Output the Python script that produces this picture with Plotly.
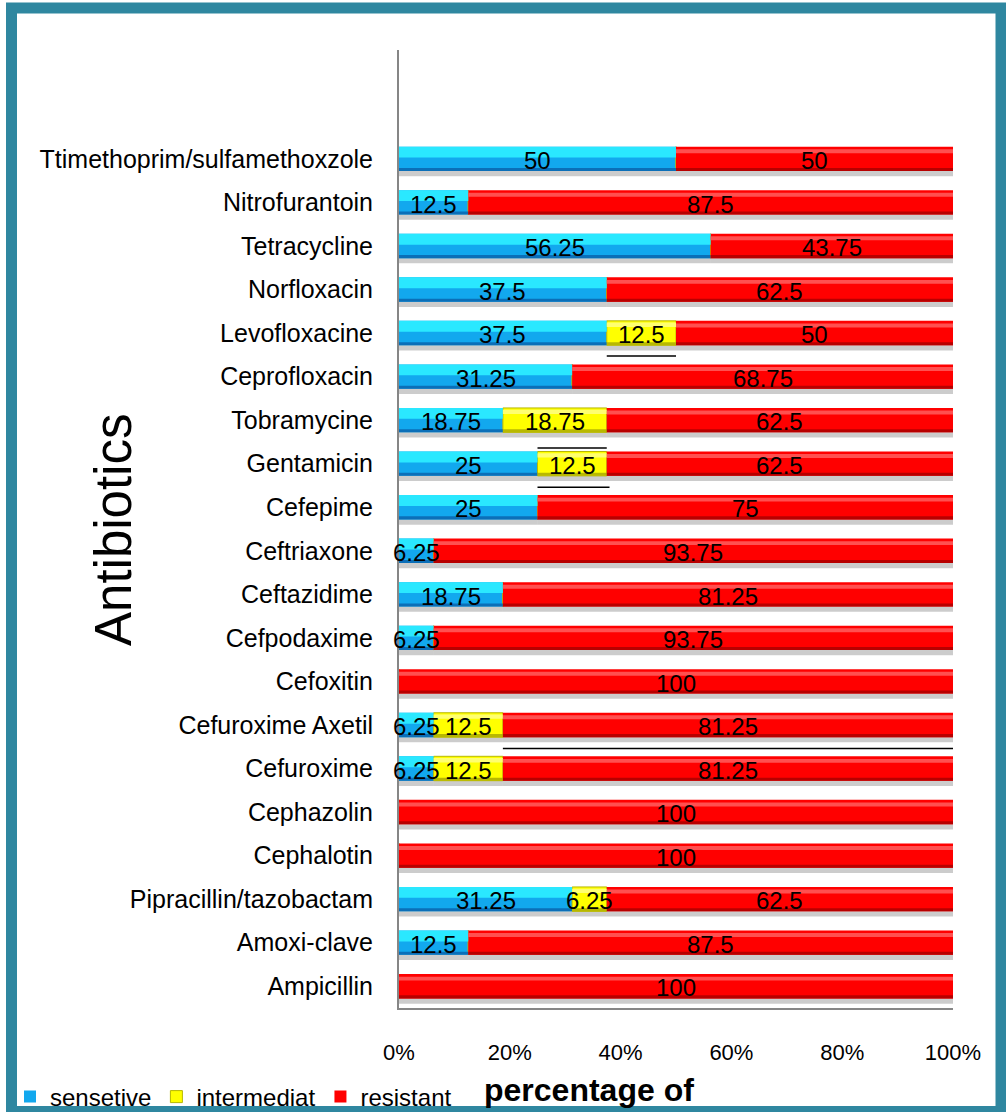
import numpy as np
import plotly.graph_objects as go

# Antibiotics, listed bottom to top
antibiotics = [
    "Ampicillin", "Amoxi-clave", "Pipracillin/tazobactam", "Cephalotin",
    "Cephazolin", "Cefuroxime", "Cefuroxime Axetil", "Cefoxitin",
    "Cefpodaxime", "Ceftazidime", "Ceftriaxone", "Cefepime", "Gentamicin",
    "Tobramycine", "Ceprofloxacin", "Levofloxacine", "Norfloxacin",
    "Tetracycline", "Nitrofurantoin", "Ttimethoprim/sulfamethoxzole",
]
sensetive = [0, 12.5, 31.25, 0, 0, 6.25, 6.25, 0, 6.25, 18.75, 6.25, 25, 25,
             18.75, 31.25, 37.5, 37.5, 56.25, 12.5, 50]
intermediat = [0, 0, 6.25, 0, 0, 12.5, 12.5, 0, 0, 0, 0, 0, 12.5, 18.75, 0,
               12.5, 0, 0, 0, 0]
resistant = [100, 87.5, 62.5, 100, 100, 81.25, 81.25, 100, 93.75, 81.25,
             93.75, 75, 62.5, 62.5, 68.75, 50, 62.5, 43.75, 87.5, 50]

series_names = ["sensetive", "intermediat", "resistant"]
tick_vals = [0, 20, 40, 60, 80, 100]

W, H = 1006, 1112
L, R, T, B = 399, 953, 50, 1008  # plot-area edges in pixels
FONT = "Liberation Sans"


def px_x(p):
    return (p - L) / (R - L)


def px_y(p):
    return (B - p) / (B - T)


styles = {
    "sensetive": dict(main="#12a8ee", hi="#2ae8ff", edge="#0b6fb8"),
    "intermediat": dict(main="#ffff00", hi="#ffff70", edge="#b8b800"),
    "resistant": dict(main="#ff0000", hi="#ff5050", edge="#b80000"),
}
band = {  # (offset, width) of the glossy band per series
    "sensetive": (0.03, 0.25),
    "intermediat": (0.14, 0.10),
    "resistant": (0.13, 0.09),
}

values = [np.array(sensetive), np.array(intermediat), np.array(resistant)]
bases = [np.zeros(len(antibiotics)), values[0], values[0] + values[1]]

fig = go.Figure()

BW = 0.56  # bar thickness in category units

# drop shadows first
for name, v, b in zip(series_names, values, bases):
    fig.add_trace(go.Bar(
        y=antibiotics, x=v, base=b, orientation="h",
        offset=-BW / 2 - 0.12, width=BW,
        marker=dict(color="rgba(0,0,0,0.2)", line=dict(width=0)),
        showlegend=False, hoverinfo="skip"))

# main bars
for name, v, b in zip(series_names, values, bases):
    st = styles[name]
    fig.add_trace(go.Bar(
        y=antibiotics, x=v, base=b, orientation="h", name=name,
        offset=-BW / 2, width=BW,
        marker=dict(color=st["main"],
                    line=dict(width=1 if name == "intermediat" else 0,
                              color=st["edge"])),
        showlegend=True))

# glossy top band and darker lower edge
for name, v, b in zip(series_names, values, bases):
    st = styles[name]
    off, wid = band[name]
    fig.add_trace(go.Bar(
        y=antibiotics, x=v, base=b, orientation="h",
        offset=off, width=wid,
        marker=dict(color=st["hi"], line=dict(width=0)),
        showlegend=False, hoverinfo="skip"))
    fig.add_trace(go.Bar(
        y=antibiotics, x=v, base=b, orientation="h",
        offset=-BW / 2, width=0.07,
        marker=dict(color=st["edge"], line=dict(width=0)),
        showlegend=False, hoverinfo="skip"))

annotations = []
# value labels centred in each segment
for v, b in zip(values, bases):
    for i, name in enumerate(antibiotics):
        if v[i] > 0:
            annotations.append(dict(
                x=b[i] + v[i] / 2, y=i - 0.04, xref="x", yref="y",
                text=f"{v[i]:g}", showarrow=False,
                font=dict(family=FONT, size=24, color="black"),
                xanchor="center", yanchor="middle"))

annotations.append(dict(
    x=px_x(113), y=px_y(530), xref="paper", yref="paper",
    text="Antibiotics", textangle=-90, showarrow=False,
    font=dict(family=FONT, size=51, color="black"),
    xanchor="center", yanchor="middle"))
annotations.append(dict(
    x=px_x(589), y=px_y(1090), xref="paper", yref="paper",
    text="<b>percentage of</b>", showarrow=False,
    font=dict(family=FONT, size=32, color="black"),
    xanchor="center", yanchor="middle"))

shapes = [
    # teal frame around the whole chart
    dict(type="rect", xref="paper", yref="paper",
         x0=px_x(11.5), x1=px_x(1001), y0=px_y(8), y1=px_y(1111.5),
         line=dict(color="#2f87a0", width=11), fillcolor="rgba(0,0,0,0)",
         layer="above"),
    # stray rule lines
    dict(type="line", xref="x", yref="y", x0=37.5, x1=50, y0=15 - 0.53,
         y1=15 - 0.53, line=dict(color="black", width=1.5)),
    dict(type="line", xref="x", yref="y", x0=25, x1=37.5, y0=12 + 0.36,
         y1=12 + 0.36, line=dict(color="black", width=1.5)),
    dict(type="line", xref="x", yref="y", x0=25, x1=38, y0=12 - 0.54,
         y1=12 - 0.54, line=dict(color="black", width=1.5)),
    dict(type="line", xref="x", yref="y", x0=18.75, x1=100, y0=6 - 0.54,
         y1=6 - 0.54, line=dict(color="black", width=1.5)),
]

fig.update_layout(
    width=W, height=H,
    margin=dict(l=L, r=W - R, t=T, b=H - B, pad=0, autoexpand=False),
    barmode="overlay",
    paper_bgcolor="white", plot_bgcolor="white",
    font=dict(family=FONT, color="black"),
    annotations=annotations, shapes=shapes,
    legend=dict(orientation="h", x=px_x(10), y=px_y(1097),
                xanchor="left", yanchor="middle",
                font=dict(family=FONT, size=24, color="black"),
                itemwidth=30, bgcolor="rgba(0,0,0,0)"),
    xaxis=dict(range=[0, 100], tickvals=tick_vals,
               ticktext=[f"{t}%" for t in tick_vals],
               showgrid=False, zeroline=False, showline=True,
               linecolor="#868686", linewidth=2, ticks="",
               ticklabelstandoff=24,
               tickfont=dict(family=FONT, size=22, color="black")),
    yaxis=dict(type="category", categoryorder="array",
               categoryarray=antibiotics, range=[-0.5, 21.5],
               showgrid=False, zeroline=False, showline=True,
               linecolor="#868686", linewidth=2, ticks="",
               ticklabelstandoff=19,
               tickfont=dict(family=FONT, size=25, color="black")),
)

fig.write_html("out.html")
